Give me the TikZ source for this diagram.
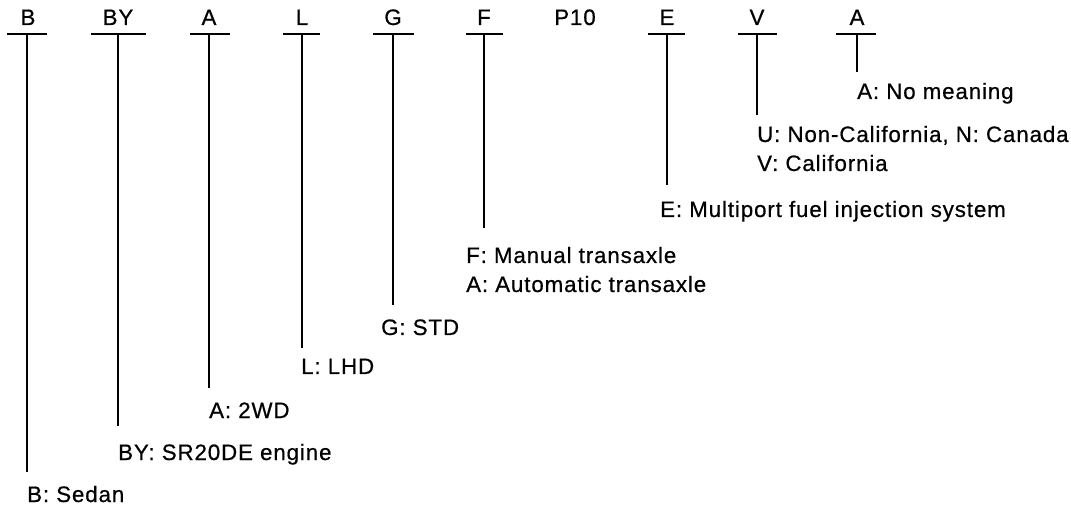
\documentclass[tikz,border=0pt]{standalone}
\usepackage{fontspec}
\setmainfont[LetterSpace=4,FakeBold=0.6]{Liberation Sans}
\begin{document}
\begin{tikzpicture}[x=1pt,y=-1pt,
  code/.style={anchor=base,inner sep=0pt,font=\fontsize{22.3}{25}\selectfont},
  lbl/.style={anchor=base west,inner sep=0pt,font=\fontsize{22.3}{25}\selectfont},
  barline/.style={line width=2.4pt},
  stem/.style={line width=1.8pt}]
\useasboundingbox (0,0) rectangle (1071,510);
% code letters
\node[code] (cB)  at (28,25)  {B};
\node[code] (cBY) at (118,25) {BY};
\node[code] (cA)  at (209,25) {A};
\node[code] (cL)  at (302,25) {L};
\node[code] (cG)  at (393,25) {G};
\node[code] (cF)  at (484,25) {F};
\node[code] (cP)  at (575,25) {P10};
\node[code] (cE)  at (667,25) {E};
\node[code] (cV)  at (757,25) {V};
\node[code] (cA2) at (857,25) {A};
% bar tops
\coordinate (tB)  at (27,34);
\coordinate (tBY) at (118,34);
\coordinate (tA)  at (209,34);
\coordinate (tL)  at (302,34);
\coordinate (tG)  at (393,34);
\coordinate (tF)  at (484,34);
\coordinate (tE)  at (667,34);
\coordinate (tV)  at (757,34);
\coordinate (tA2) at (857,34);
% stem ends
\coordinate (eB)  at (27,472);
\coordinate (eBY) at (118,426);
\coordinate (eA)  at (209,388);
\coordinate (eL)  at (302,348);
\coordinate (eG)  at (393,305);
\coordinate (eF)  at (484,228);
\coordinate (eE)  at (667,185);
\coordinate (eV)  at (757,115);
\coordinate (eA2) at (857,72);
% bars
\draw[barline] ([xshift=-20pt]tB) -- ([xshift=20pt]tB);
\draw[barline] ([xshift=-27pt]tBY) -- ([xshift=28pt]tBY);
\draw[barline] ([xshift=-19pt]tA) -- ([xshift=21pt]tA);
\draw[barline] ([xshift=-19pt]tL) -- ([xshift=18pt]tL);
\draw[barline] ([xshift=-20pt]tG) -- ([xshift=21pt]tG);
\draw[barline] ([xshift=-18pt]tF) -- ([xshift=19pt]tF);
\draw[barline] ([xshift=-19pt]tE) -- ([xshift=18pt]tE);
\draw[barline] ([xshift=-19pt]tV) -- ([xshift=20pt]tV);
\draw[barline] ([xshift=-21pt]tA2) -- ([xshift=19pt]tA2);
% stems
\draw[stem] (tB) -- (eB);
\draw[stem] (tBY) -- (eBY);
\draw[stem] (tA) -- (eA);
\draw[stem] (tL) -- (eL);
\draw[stem] (tG) -- (eG);
\draw[stem] (tF) -- (eF);
\draw[stem] (tE) -- (eE);
\draw[stem] (tV) -- (eV);
\draw[stem] (tA2) -- (eA2);
% labels
\node[lbl] (lA2) at (857,99)  {A: No meaning};
\node[lbl] (lV1) at (757,142) {U: Non-California, N: Canada};
\node[lbl] (lV2) at (757,171) {V: California};
\node[lbl] (lE)  at (660,217) {E: Multiport fuel injection system};
\node[lbl] (lF1) at (466,263) {F: Manual transaxle};
\node[lbl] (lF2) at (466,292) {A: Automatic transaxle};
\node[lbl] (lG)  at (381,335) {G: STD};
\node[lbl] (lL)  at (301,374) {L: LHD};
\node[lbl] (lA)  at (209,418) {A: 2WD};
\node[lbl] (lBY) at (118,460) {BY: SR20DE engine};
\node[lbl] (lB)  at (27,502)  {B: Sedan};
\end{tikzpicture}
\end{document}
